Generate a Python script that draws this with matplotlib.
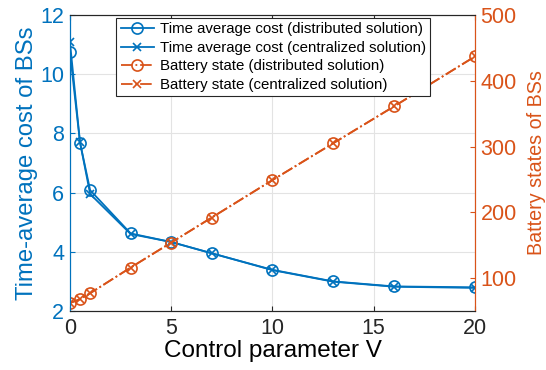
import matplotlib.pyplot as plt

plt.rcParams['font.family'] = ['Liberation Sans', 'DejaVu Sans']

# control parameter V
v = [0, 0.5, 1, 3, 5, 7, 10, 13, 16, 20]

# time-average cost
cost_dist = [10.75, 7.69, 6.08, 4.62, 4.33, 3.95, 3.39, 3.0, 2.83, 2.8]
cost_cent = [11.1, 7.7, 5.95, 4.6, 4.33, 3.95, 3.38, 2.99, 2.82, 2.78]

# battery states
batt_dist = [62, 68, 77, 116, 154, 192, 249, 305, 361, 437]
batt_cent = [62, 68, 77, 116, 154, 192, 249, 305, 361, 437]

blue = "#0072BD"
orange = "#D95319"

fig = plt.figure(figsize=(5.46, 3.70), dpi=100)
ax1 = fig.add_axes([0.128, 0.1595, 0.742, 0.8])
ax2 = ax1.twinx()

l1, = ax1.plot(v, cost_dist, "-o", color=blue, mfc="none", ms=8, mew=1.2, lw=1.3,
               label="Time average cost (distributed solution)")
l2, = ax1.plot(v, cost_cent, "-x", color=blue, ms=6, mew=1.2, lw=1.3,
               label="Time average cost (centralized solution)")
l3, = ax2.plot(v, batt_dist, "-.o", color=orange, mfc="none", ms=8, mew=1.2, lw=1.3,
               label="Battery state (distributed solution)")
l4, = ax2.plot(v, batt_cent, "-.x", color=orange, ms=6, mew=1.2, lw=1.3,
               label="Battery state (centralized solution)")

ax1.set_xlim(0, 20)
ax1.set_ylim(2, 12)
ax2.set_ylim(50, 500)
ax1.set_xticks([0, 5, 10, 15, 20])
ax1.set_yticks([2, 4, 6, 8, 10, 12])
ax2.set_yticks([100, 200, 300, 400, 500])

ax1.grid(True, color="#e3e3e3", lw=0.8)
ax1.set_axisbelow(True)

ax1.set_xlabel("Control parameter V", fontsize=17.5, labelpad=1)
ax1.set_ylabel("Time-average cost of BSs", fontsize=17.2, color=blue, labelpad=2)
ax2.set_ylabel("Battery states of BSs", fontsize=14.2, color=orange, labelpad=7)

ax1.tick_params(axis="x", direction="in", top=True, labelsize=15.5, colors="#262626", pad=5)
ax1.tick_params(axis="y", direction="in", labelsize=15.5, colors=blue, right=False, pad=4)
ax2.tick_params(axis="y", direction="in", labelsize=15.5, colors=orange, pad=4)

for ax in (ax1, ax2):
    ax.spines["top"].set_color("#262626")
    ax.spines["bottom"].set_color("#262626")
    ax.spines["left"].set_color(blue)
    ax.spines["right"].set_color(orange)

leg = ax2.legend(handles=[l1, l2, l3, l4], loc="upper left", bbox_to_anchor=(0.114, 0.99),
                 fontsize=10.8, frameon=True, fancybox=False, borderaxespad=0,
                 handlelength=2.2, handletextpad=0.4, labelspacing=0.3, borderpad=0.3)
leg.get_frame().set_edgecolor("#262626")
leg.get_frame().set_linewidth(0.8)
leg.get_frame().set_alpha(1)

fig.savefig("out.png", dpi=100)
